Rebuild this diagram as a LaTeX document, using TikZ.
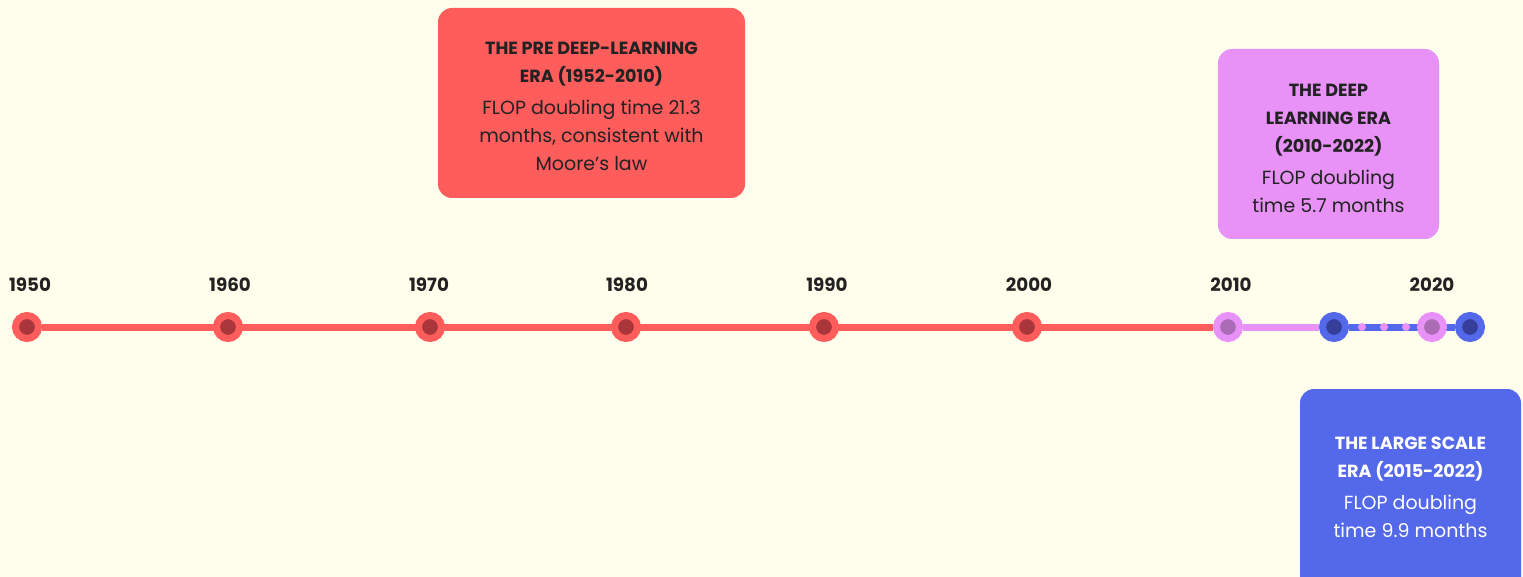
\documentclass[tikz,border=0pt]{standalone}
\usepackage{fontspec}
\setmainfont{Poppins}
\usetikzlibrary{backgrounds}
\definecolor{bg}{RGB}{255,254,236}
\definecolor{ered}{RGB}{255,92,92}
\definecolor{eredin}{RGB}{168,54,58}
\definecolor{epink}{RGB}{232,145,247}
\definecolor{epinkin}{RGB}{171,108,181}
\definecolor{eblue}{RGB}{84,104,234}
\definecolor{ebluein}{RGB}{53,63,153}
\definecolor{etext}{RGB}{34,34,34}
\tikzset{
  dot/.style={circle, minimum size=23pt, inner sep=0pt, line width=7pt},
  reddot/.style={dot, draw=ered, fill=eredin},
  pinkdot/.style={dot, draw=epink, fill=epinkin},
  bluedot/.style={dot, draw=eblue, fill=ebluein},
  minidot/.style={circle, fill=epink, minimum size=8pt, inner sep=0pt},
  year/.style={font=\fontsize{18.3}{20}\selectfont\bfseries, text=etext},
  erabox/.style={rounded corners=14pt, inner sep=0pt},
  eratext/.style={align=center, font=\fontsize{19}{28}\selectfont, text=etext},
  tl/.style={line width=7pt}
}
\newcommand{\hd}[1]{{\bfseries\fontsize{17.6}{28}\selectfont #1}}
\begin{document}
\begin{tikzpicture}[x=1pt,y=-1pt]
\useasboundingbox (0,0) rectangle (1523,577);
% dots
\node[reddot] (d1950) at (27,327) {};
\node[reddot] (d1960) at (228,327) {};
\node[reddot] (d1970) at (430,327) {};
\node[reddot] (d1980) at (626,327) {};
\node[reddot] (d1990) at (824,327) {};
\node[reddot] (d2000) at (1027,327) {};
\node[pinkdot] (d2010) at (1228,327) {};
\node[bluedot] (b2015) at (1334,327) {};
\node[pinkdot] (d2020) at (1432,327) {};
\node[bluedot] (b2022) at (1470,327) {};
\node[minidot] (m1) at (1362,327) {};
\node[minidot] (m2) at (1384,327) {};
\node[minidot] (m3) at (1406,327) {};
% years
\node[year] (y1950) at (30,285) {1950};
\node[year] (y1960) at (230,285) {1960};
\node[year] (y1970) at (429,285) {1970};
\node[year] (y1980) at (627,285) {1980};
\node[year] (y1990) at (827,285) {1990};
\node[year] (y2000) at (1029,285) {2000};
\node[year] (y2010) at (1231,285) {2010};
\node[year] (y2020) at (1432,285) {2020};
% boxes
\fill[ered, erabox] (438,8) rectangle (745,198);
\node[eratext] (pre) at (591.5,106.5) {\hd{THE PRE DEEP-LEARNING}\\\hd{ERA (1952-2010)}\\[4pt]FLOP doubling time 21.3\\months, consistent with\\Moore’s law};
\fill[epink, erabox] (1218,49) rectangle (1439,239);
\node[eratext] (deep) at (1328.5,148) {\hd{THE DEEP}\\\hd{LEARNING ERA}\\\hd{(2010-2022)}\\[4pt]FLOP doubling\\time 5.7 months};
\fill[eblue, erabox] (1300,389) rectangle (1521,600);
\node[eratext, text=white] (large) at (1410.5,487) {\hd{THE LARGE SCALE}\\\hd{ERA (2015-2022)}\\[4pt]FLOP doubling\\time 9.9 months};
\begin{scope}[on background layer]
\fill[bg] (0,0) rectangle (1523,577);
\draw[tl, ered] (d1950) -- (d2010);
\draw[tl, epink] (d2010) -- (b2015);
\draw[tl, eblue] (b2015) -- (b2022);
\end{scope}
\end{tikzpicture}
\end{document}
